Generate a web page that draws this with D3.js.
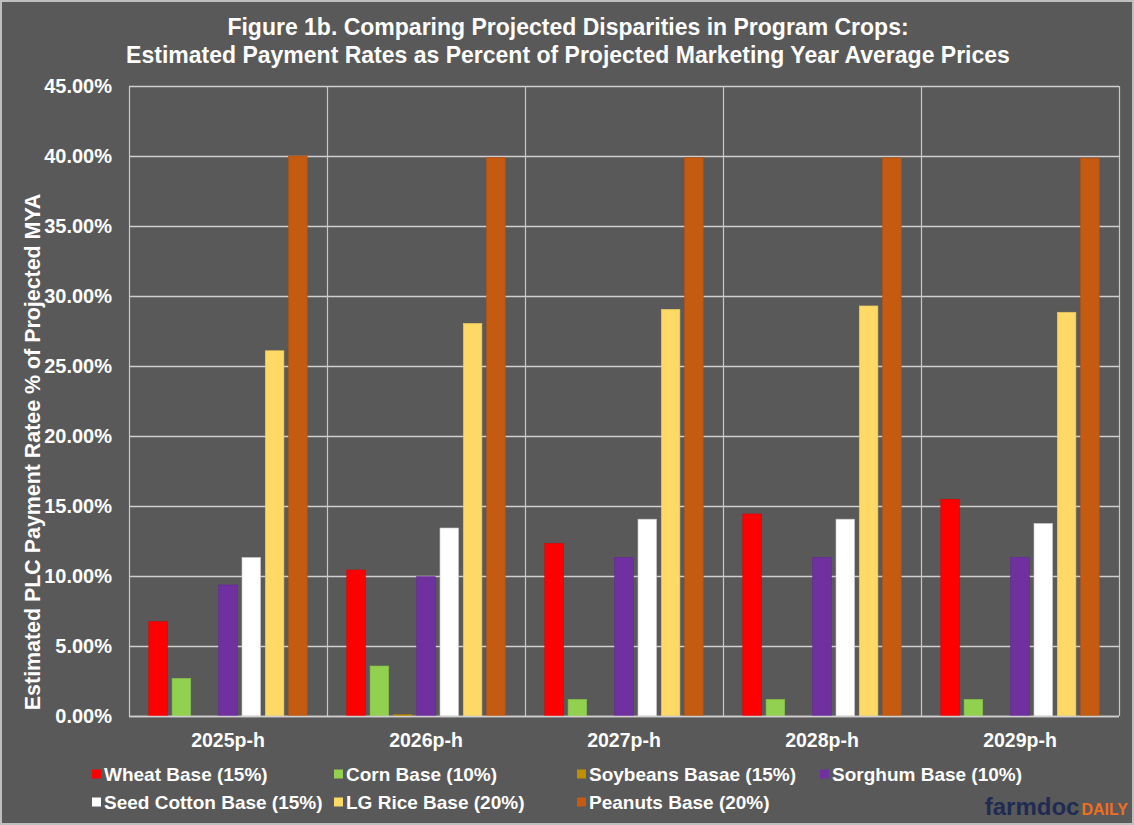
<!DOCTYPE html>
<html>
<head>
<meta charset="utf-8">
<script src="https://cdn.jsdelivr.net/npm/d3@7/dist/d3.min.js"></script>
<style>
  html, body { margin: 0; padding: 0; background: #ffffff; }
  svg { display: block; }
  text { font-family: "Liberation Sans", Arial, sans-serif; }
</style>
</head>
<body>
<svg id="chart" width="1134" height="825"></svg>
<script>
// Crop program years
const years = ["2025p-h", "2026p-h", "2027p-h", "2028p-h", "2029p-h"];

// Series (payment rate as percent of projected MYA price)
const seriesNames = [
  "Wheat Base (15%)",
  "Corn Base (10%)",
  "Soybeans Basae (15%)",
  "Sorghum Base (10%)",
  "Seed Cotton Base (15%)",
  "LG Rice Base (20%)",
  "Peanuts Base (20%)"
];
const wheat      = [6.74, 10.43, 12.33, 14.43, 15.48];
const corn       = [2.69, 3.57, 1.19, 1.19, 1.19];
const soybeans   = [0.00, 0.10, 0.00, 0.00, 0.00];
const sorghum    = [9.36, 9.95, 11.33, 11.33, 11.33];
const seedCotton = [11.33, 13.43, 14.06, 14.06, 13.76];
const lgRice     = [26.09, 28.05, 29.05, 29.29, 28.84];
const peanuts    = [40.00, 39.90, 39.88, 39.87, 39.85];

const yTicks = [0, 5, 10, 15, 20, 25, 30, 35, 40, 45];

const colors = ["#ff0000", "#92d050", "#bf9000", "#7030a0", "#ffffff", "#ffd966", "#c55a11"];
const strokes = ["#e00000", "#86c04a", "#a67d00", "#65299a", "#bfbfbf", "#e6c35a", "#b35010"];

const seriesValues = [wheat, corn, soybeans, sorghum, seedCotton, lgRice, peanuts];

const svg = d3.select("#chart");
const W = 1134, H = 825;
const plot = { left: 129, right: 1119, top: 86, bottom: 716 };

// Background and frame
svg.append("rect").attr("x", 0).attr("y", 0).attr("width", W).attr("height", H).attr("fill", "#595959");
svg.append("rect").attr("x", 1).attr("y", 1).attr("width", W - 2).attr("height", H - 2)
  .attr("fill", "none").attr("stroke", "#bfbfbf").attr("stroke-width", 2);

// Title
const title = svg.append("text")
  .attr("x", 568).attr("text-anchor", "middle")
  .attr("fill", "#ffffff").attr("font-weight", "bold").attr("font-size", 23);
title.append("tspan").attr("x", 568).attr("y", 35).text("Figure 1b. Comparing Projected Disparities in Program Crops:");
title.append("tspan").attr("x", 568).attr("y", 63).text("Estimated Payment Rates as Percent of Projected Marketing Year Average Prices");

// Scales
const y = d3.scaleLinear().domain([0, 45]).range([plot.bottom, plot.top]);
const x0 = d3.scaleBand().domain(years).range([plot.left, plot.right]).padding(0);
const x1 = d3.scaleBand().domain(d3.range(seriesNames.length))
  .range([0, x0.bandwidth()]).paddingInner(0.2).paddingOuter(0.85);

// Horizontal gridlines
svg.append("g").selectAll("line").data(yTicks).join("line")
  .attr("x1", plot.left).attr("x2", plot.right)
  .attr("y1", d => y(d) + 0.5).attr("y2", d => y(d) + 0.5)
  .attr("stroke", "#d0d0d0").attr("stroke-width", 1.3);

// Vertical category dividers
const dividers = years.map(d => x0(d)).concat([plot.right]);
svg.append("g").selectAll("line").data(dividers).join("line")
  .attr("x1", d => d + 0.5).attr("x2", d => d + 0.5)
  .attr("y1", plot.top).attr("y2", plot.bottom)
  .attr("stroke", "#c8c8c8").attr("stroke-width", 1.2);

// Bars
const groups = svg.append("g").selectAll("g").data(years).join("g")
  .attr("transform", d => `translate(${x0(d)},0)`);
groups.selectAll("rect")
  .data((d, i) => seriesValues.map((s, k) => ({ k, v: s[i] })))
  .join("rect")
  .attr("x", d => x1(d.k))
  .attr("width", x1.bandwidth())
  .attr("y", d => y(d.v))
  .attr("height", d => y(0) - y(d.v))
  .attr("fill", d => colors[d.k])
  .attr("stroke", d => d.v > 0 ? strokes[d.k] : "none")
  .attr("stroke-width", 0.6);

// Baseline
svg.append("line")
  .attr("x1", plot.left).attr("x2", plot.right)
  .attr("y1", plot.bottom + 0.5).attr("y2", plot.bottom + 0.5)
  .attr("stroke", "#d0d0d0").attr("stroke-width", 1.5);

// Y axis labels
const yAxis = d3.axisLeft(y).tickValues(yTicks).tickSize(0).tickPadding(17)
  .tickFormat(d => d3.format(".2f")(d) + "%");
const ga = svg.append("g").attr("transform", `translate(${plot.left},0)`).call(yAxis);
ga.select(".domain").remove();
ga.selectAll("text").attr("fill", "#ffffff").attr("font-weight", "bold")
  .attr("font-size", 20).attr("font-family", "Liberation Sans, Arial, sans-serif");

// X axis labels
const xAxis = d3.axisBottom(x0).tickSize(0).tickPadding(17);
const gx = svg.append("g").attr("transform", `translate(0,${plot.bottom})`).call(xAxis);
gx.select(".domain").remove();
gx.selectAll("text").attr("fill", "#ffffff").attr("font-weight", "bold")
  .attr("font-size", 19.5).attr("font-family", "Liberation Sans, Arial, sans-serif");

// Y axis title
svg.append("text")
  .attr("transform", `translate(40,${(plot.top + plot.bottom) / 2 + 51}) rotate(-90)`)
  .attr("text-anchor", "middle").attr("fill", "#ffffff").attr("font-weight", "bold")
  .attr("font-size", 21.4)
  .text("Estimated PLC Payment Ratee % of Projected MYA");

// Legend
const legendCols = [92, 334, 577, 820];
const legendRows = [774, 802];
const legend = svg.append("g").selectAll("g").data(seriesNames).join("g")
  .attr("transform", (d, i) => {
    const row = i < 4 ? 0 : 1;
    const col = i < 4 ? i : i - 4;
    return `translate(${legendCols[col]},${legendRows[row]})`;
  });
legend.append("rect").attr("x", 0).attr("y", -4.5).attr("width", 9).attr("height", 9)
  .attr("fill", (d, i) => colors[i]);
legend.append("text").attr("x", 12).attr("y", 7)
  .attr("fill", "#ffffff").attr("font-weight", "bold").attr("font-size", 19)
  .text(d => d);

// Brand mark
const brand = svg.append("text").attr("x", 1128).attr("y", 815).attr("text-anchor", "end")
  .attr("font-weight", "bold").attr("font-family", "Lato, 'Liberation Sans', sans-serif");
brand.append("tspan").attr("fill", "#1f2b52").attr("font-size", 24).text("farmdoc");
brand.append("tspan").attr("fill", "#f07020").attr("font-size", 16).attr("dx", 2).text("DAILY");
</script>
</body>
</html>
